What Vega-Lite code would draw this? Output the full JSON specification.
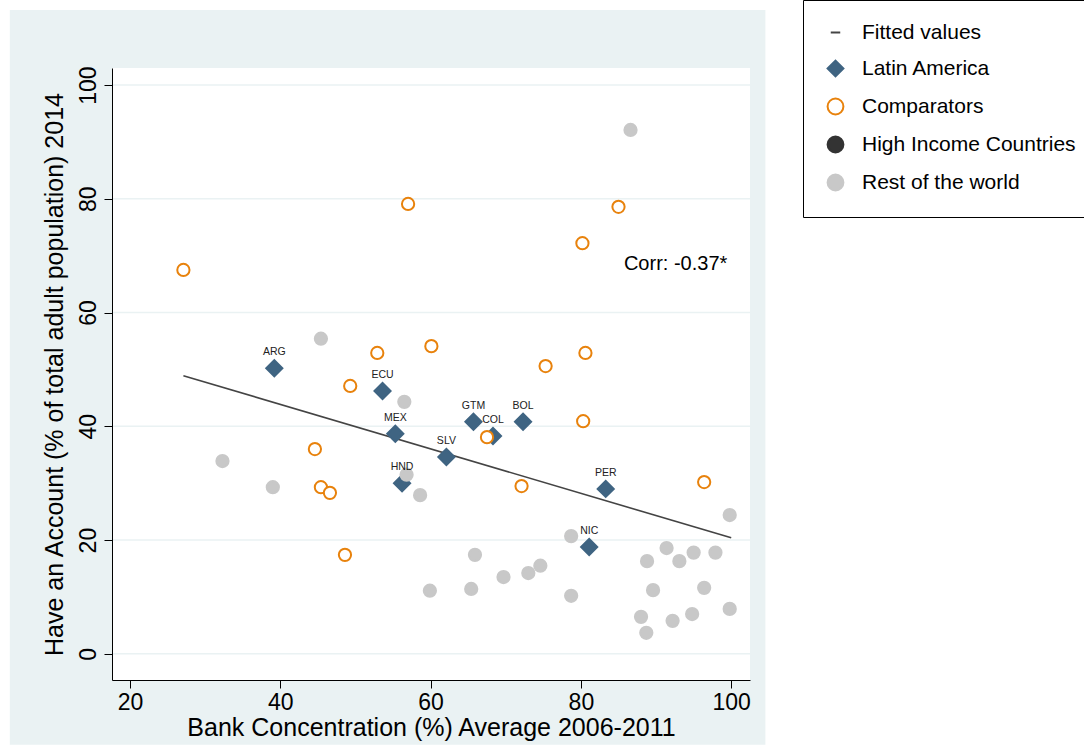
{
  "$schema": "https://vega.github.io/schema/vega-lite/v6.json",
  "width": 638,
  "height": 612,
  "autosize": "none",
  "padding": {"left": 112, "top": 68, "right": 334, "bottom": 68},
  "background": "white",
  "config": {
    "font": "Liberation Sans",
    "view": {"stroke": null},
    "axis": {"labelFont": "Liberation Sans", "titleFont": "Liberation Sans", "labelFontSize": 23, "titleFontSize": 25, "titleFontWeight": "normal", "labelColor": "black", "titleColor": "black", "domainColor": "black", "tickColor": "black", "tickSize": 8},
    "legend": {"labelFont": "Liberation Sans", "labelFontSize": 21, "labelColor": "black", "orient": "none", "legendX": 691, "legendY": -68, "fillColor": "white", "strokeColor": "black", "padding": 22, "rowPadding": 13, "symbolSize": 250, "symbolStrokeWidth": 2, "labelOffset": 16, "labelLimit": 300}
  },
  "datasets": {
    "pts": [
      {"x": 39.2, "y": 50.2, "g": "Latin America", "lab": "ARG"},
      {"x": 53.6, "y": 46.2, "g": "Latin America", "lab": "ECU"},
      {"x": 55.3, "y": 38.7, "g": "Latin America", "lab": "MEX"},
      {"x": 56.2, "y": 30.0, "g": "Latin America", "lab": "HND"},
      {"x": 62.1, "y": 34.6, "g": "Latin America", "lab": "SLV"},
      {"x": 65.7, "y": 40.8, "g": "Latin America", "lab": "GTM"},
      {"x": 68.3, "y": 38.3, "g": "Latin America", "lab": "COL"},
      {"x": 72.3, "y": 40.8, "g": "Latin America", "lab": "BOL"},
      {"x": 83.3, "y": 29.0, "g": "Latin America", "lab": "PER"},
      {"x": 81.1, "y": 18.8, "g": "Latin America", "lab": "NIC"},
      {"x": 27.1, "y": 67.5, "g": "Comparators"},
      {"x": 57.0, "y": 79.1, "g": "Comparators"},
      {"x": 85.0, "y": 78.6, "g": "Comparators"},
      {"x": 80.2, "y": 72.2, "g": "Comparators"},
      {"x": 52.9, "y": 52.9, "g": "Comparators"},
      {"x": 60.1, "y": 54.1, "g": "Comparators"},
      {"x": 49.3, "y": 47.1, "g": "Comparators"},
      {"x": 75.3, "y": 50.6, "g": "Comparators"},
      {"x": 80.6, "y": 52.9, "g": "Comparators"},
      {"x": 80.3, "y": 40.9, "g": "Comparators"},
      {"x": 67.5, "y": 38.1, "g": "Comparators"},
      {"x": 44.6, "y": 36.0, "g": "Comparators"},
      {"x": 45.4, "y": 29.3, "g": "Comparators"},
      {"x": 46.6, "y": 28.3, "g": "Comparators"},
      {"x": 72.1, "y": 29.5, "g": "Comparators"},
      {"x": 48.6, "y": 17.4, "g": "Comparators"},
      {"x": 96.4, "y": 30.2, "g": "Comparators"},
      {"x": 86.6, "y": 92.1, "g": "Rest of the world"},
      {"x": 45.4, "y": 55.4, "g": "Rest of the world"},
      {"x": 56.5, "y": 44.3, "g": "Rest of the world"},
      {"x": 32.3, "y": 33.9, "g": "Rest of the world"},
      {"x": 39.0, "y": 29.3, "g": "Rest of the world"},
      {"x": 56.8, "y": 31.5, "g": "Rest of the world"},
      {"x": 58.6, "y": 27.9, "g": "Rest of the world"},
      {"x": 59.9, "y": 11.1, "g": "Rest of the world"},
      {"x": 65.4, "y": 11.4, "g": "Rest of the world"},
      {"x": 65.9, "y": 17.4, "g": "Rest of the world"},
      {"x": 69.7, "y": 13.5, "g": "Rest of the world"},
      {"x": 73.0, "y": 14.2, "g": "Rest of the world"},
      {"x": 74.6, "y": 15.5, "g": "Rest of the world"},
      {"x": 78.7, "y": 10.2, "g": "Rest of the world"},
      {"x": 78.7, "y": 20.7, "g": "Rest of the world"},
      {"x": 88.8, "y": 16.3, "g": "Rest of the world"},
      {"x": 88.0, "y": 6.5, "g": "Rest of the world"},
      {"x": 88.7, "y": 3.7, "g": "Rest of the world"},
      {"x": 89.6, "y": 11.2, "g": "Rest of the world"},
      {"x": 91.4, "y": 18.6, "g": "Rest of the world"},
      {"x": 92.2, "y": 5.8, "g": "Rest of the world"},
      {"x": 93.1, "y": 16.3, "g": "Rest of the world"},
      {"x": 95.0, "y": 17.8, "g": "Rest of the world"},
      {"x": 94.8, "y": 7.0, "g": "Rest of the world"},
      {"x": 96.4, "y": 11.6, "g": "Rest of the world"},
      {"x": 97.9, "y": 17.8, "g": "Rest of the world"},
      {"x": 99.8, "y": 24.4, "g": "Rest of the world"},
      {"x": 99.8, "y": 7.9, "g": "Rest of the world"}
    ]
  },
  "encoding": {
    "x": {"field": "x", "type": "quantitative", "scale": {"domain": [17.6, 102.5], "nice": false, "zero": false},
          "axis": {"values": [20, 40, 60, 80, 100], "title": "Bank Concentration (%) Average 2006-2011", "titlePadding": 1, "labelPadding": 3, "grid": false, "zindex": 2}},
    "y": {"field": "y", "type": "quantitative", "scale": {"domain": [-4.6, 103], "nice": false, "zero": false},
          "axis": {"values": [0, 20, 40, 60, 80, 100], "title": "Have an Account (% of total adult population) 2014", "labelAngle": 270, "labelAlign": "center", "labelBaseline": "bottom", "labelPadding": 4, "titlePadding": 10, "grid": false, "zindex": 2}}
  },
  "layer": [
    {
      "data": {"values": [{"x": 4.0, "x2": 104.55, "y": -16.0, "y2": 113.2}]},
      "mark": {"type": "rect", "clip": false, "color": "#eaf2f3"},
      "encoding": {"x2": {"field": "x2"}, "y2": {"field": "y2"}}
    },
    {
      "data": {"values": [{"x": 17.6, "x2": 102.5, "y": -4.6, "y2": 103}]},
      "mark": {"type": "rect", "clip": false, "color": "white"},
      "encoding": {"x2": {"field": "x2"}, "y2": {"field": "y2"}}
    },
    {
      "data": {"values": [{"y": 0}, {"y": 20}, {"y": 40}, {"y": 60}, {"y": 80}, {"y": 100}]},
      "mark": {"type": "rule", "color": "#eaf2f3", "strokeWidth": 1.5},
      "encoding": {"x": {"value": 0}, "x2": {"value": 638}}
    },
    {
      "data": {"values": [{"x": 27.1, "y": 48.9}, {"x": 100, "y": 20.4}]},
      "mark": {"type": "line", "color": "#444444", "strokeWidth": 1.6},
      "encoding": {}
    },
    {
      "data": {"name": "pts"},
      "mark": {"type": "point", "strokeWidth": 2, "opacity": 1},
      "encoding": {
        "shape": {"field": "g", "type": "nominal",
          "scale": {"domain": ["Fitted values", "Latin America", "Comparators", "High Income Countries", "Rest of the world"], "range": ["M-0.6,0L0.6,0", "diamond", "circle", "circle", "circle"]},
          "legend": {"title": null}},
        "fill": {"field": "g", "type": "nominal",
          "scale": {"domain": ["Fitted values", "Latin America", "Comparators", "High Income Countries", "Rest of the world"], "range": ["#444444", "#3f6482", "white", "#333333", "#c8c8c8"]},
          "legend": {"title": null}},
        "stroke": {"field": "g", "type": "nominal",
          "scale": {"domain": ["Fitted values", "Latin America", "Comparators", "High Income Countries", "Rest of the world"], "range": ["#444444", "#3f6482", "#e8820c", "#333333", "#c8c8c8"]},
          "legend": {"title": null}},
        "size": {"condition": {"test": "datum.g == 'Latin America'", "value": 260}, "value": 150}
      }
    },
    {
      "data": {"name": "pts"},
      "transform": [{"filter": "datum.lab"}],
      "mark": {"type": "text", "fontSize": 10.5, "dy": -16, "color": "#222"},
      "encoding": {"text": {"field": "lab"}}
    },
    {
      "data": {"values": [{"x": 92.6, "y": 68.5, "t": "Corr: -0.37*"}]},
      "mark": {"type": "text", "fontSize": 20, "color": "black"},
      "encoding": {"text": {"field": "t"}}
    }
  ]
}
